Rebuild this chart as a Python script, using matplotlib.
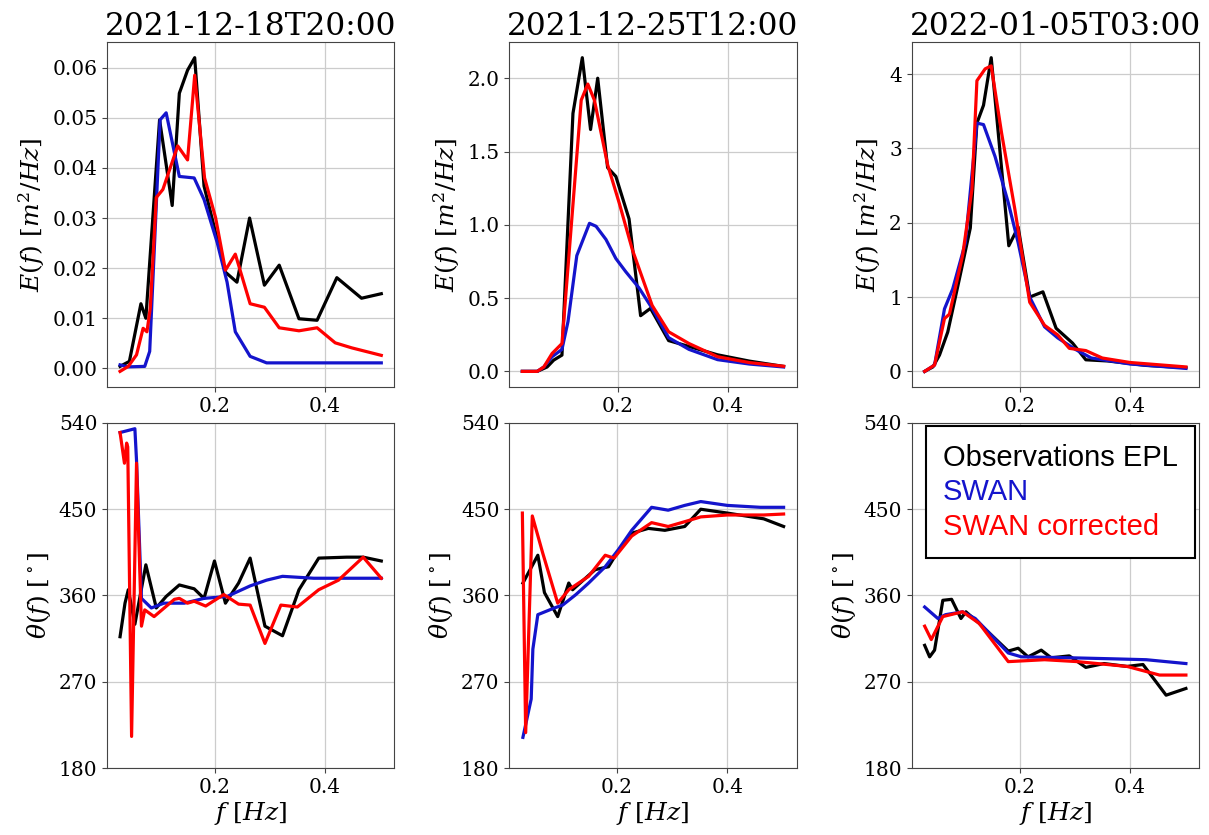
import numpy as np
import matplotlib
matplotlib.use('Agg')
import matplotlib.pyplot as plt

plt.rcParams['font.family'] = 'DejaVu Serif'
plt.rcParams['mathtext.fontset'] = 'dejavuserif'

titles = ['2021-12-18T20:00', '2021-12-25T12:00', '2022-01-05T03:00']

# --- 2021-12-18T20:00 ---
f_obs1 = [0.027, 0.044, 0.065, 0.074, 0.099, 0.122, 0.135, 0.150, 0.163, 0.180, 0.219, 0.240,
          0.263, 0.290, 0.317, 0.353, 0.386, 0.422, 0.467, 0.503]
E_obs1 = [0.0004, 0.0014, 0.0129, 0.0100, 0.0496, 0.0325, 0.0549, 0.0595, 0.0620, 0.0364, 0.0192,
          0.0172, 0.0300, 0.0166, 0.0206, 0.0099, 0.0096, 0.0181, 0.0140, 0.0149]
f_swan1 = [0.027, 0.041, 0.072, 0.081, 0.100, 0.111, 0.135, 0.162, 0.180, 0.204, 0.222, 0.237,
           0.264, 0.294, 0.350, 0.420, 0.503]
E_swan1 = [0.0007, 0.0003, 0.0004, 0.0034, 0.0496, 0.0510, 0.0383, 0.0380, 0.0337, 0.0251, 0.0172,
           0.0073, 0.0024, 0.0011, 0.0011, 0.0011, 0.0011]
f_cor1 = [0.027, 0.042, 0.057, 0.069, 0.076, 0.082, 0.093, 0.105, 0.132, 0.150, 0.163, 0.181,
          0.201, 0.219, 0.237, 0.264, 0.290, 0.317, 0.353, 0.386, 0.419, 0.449, 0.503]
E_cor1 = [-0.0006, 0.0004, 0.0027, 0.0080, 0.0073, 0.0120, 0.0341, 0.0357, 0.0444, 0.0416, 0.0585,
          0.0380, 0.0301, 0.0196, 0.0228, 0.0129, 0.0122, 0.0081, 0.0075, 0.0081, 0.0051, 0.0041, 0.0026]

# --- 2021-12-25T12:00 ---
f_obs2 = [0.027, 0.054, 0.072, 0.084, 0.099, 0.119, 0.136, 0.151, 0.164, 0.182, 0.197, 0.221,
          0.242, 0.260, 0.293, 0.330, 0.382, 0.440, 0.502]
E_obs2 = [0.0, 0.0, 0.03, 0.077, 0.111, 1.76, 2.14, 1.65, 2.00, 1.39, 1.33, 1.04,
          0.38, 0.43, 0.21, 0.17, 0.113, 0.07, 0.034]
f_swan2 = [0.027, 0.054, 0.066, 0.081, 0.099, 0.110, 0.126, 0.149, 0.161, 0.179, 0.197, 0.215,
           0.239, 0.263, 0.293, 0.330, 0.382, 0.440, 0.502]
E_swan2 = [0.0, 0.0, 0.03, 0.10, 0.15, 0.34, 0.79, 1.01, 0.99, 0.90, 0.77, 0.68,
           0.57, 0.43, 0.23, 0.15, 0.08, 0.05, 0.03]
f_cor2 = [0.027, 0.054, 0.066, 0.081, 0.099, 0.134, 0.146, 0.158, 0.182, 0.203, 0.227, 0.263,
          0.293, 0.330, 0.382, 0.440, 0.502]
E_cor2 = [0.0, 0.0, 0.03, 0.122, 0.19, 1.85, 1.96, 1.85, 1.41, 1.15, 0.83, 0.45,
          0.27, 0.19, 0.10, 0.06, 0.035]

# --- 2022-01-05T03:00 ---
f_obs3 = [0.027, 0.042, 0.054, 0.069, 0.090, 0.110, 0.122, 0.134, 0.148, 0.180, 0.197, 0.218,
          0.242, 0.266, 0.296, 0.320, 0.360, 0.430, 0.502]
E_obs3 = [0.0, 0.06, 0.22, 0.53, 1.24, 1.93, 3.34, 3.58, 4.22, 1.69, 1.94, 1.00,
          1.07, 0.58, 0.38, 0.156, 0.14, 0.08, 0.05]
f_swan3 = [0.027, 0.045, 0.063, 0.078, 0.101, 0.122, 0.134, 0.155, 0.179, 0.197, 0.218, 0.245,
           0.269, 0.300, 0.330, 0.400, 0.502]
E_swan3 = [0.0, 0.085, 0.84, 1.11, 1.73, 3.34, 3.32, 2.89, 2.27, 1.73, 1.00, 0.60,
           0.45, 0.30, 0.18, 0.10, 0.04]
f_cor3 = [0.027, 0.045, 0.063, 0.072, 0.096, 0.113, 0.122, 0.137, 0.148, 0.167, 0.191, 0.218,
          0.245, 0.269, 0.290, 0.320, 0.350, 0.400, 0.502]
E_cor3 = [0.0, 0.085, 0.71, 0.77, 1.56, 2.45, 3.91, 4.07, 4.11, 3.20, 2.18, 0.93,
          0.62, 0.49, 0.31, 0.28, 0.18, 0.12, 0.06]

# mean direction, first event
fd_obs1 = [0.027, 0.036, 0.042, 0.054, 0.074, 0.093, 0.111, 0.135, 0.162, 0.180, 0.199, 0.219,
           0.243, 0.264, 0.291, 0.323, 0.353, 0.389, 0.440, 0.470, 0.503]
th_obs1 = [317, 352, 366, 330, 392, 347, 359, 371, 367, 357, 396, 352,
           373, 399, 328, 318, 366, 399, 400, 400, 396]
fd_swan1 = [0.027, 0.054, 0.057, 0.066, 0.084, 0.107, 0.144, 0.180, 0.222, 0.264, 0.294, 0.323,
            0.380, 0.503]
th_swan1 = [530, 534, 501, 357, 347, 352, 352, 357, 359, 370, 376, 380, 378, 378]
fd_cor1 = [0.027, 0.035, 0.039, 0.041, 0.048, 0.057, 0.066, 0.072, 0.089, 0.126, 0.135, 0.150,
           0.162, 0.183, 0.216, 0.243, 0.264, 0.291, 0.320, 0.350, 0.389, 0.425, 0.470, 0.503]
th_cor1 = [530, 498, 519, 515, 213, 498, 328, 345, 338, 356, 357, 352,
           354, 349, 361, 351, 350, 310, 350, 348, 366, 376, 400, 378]

# mean direction, second event
fd_obs2 = [0.030, 0.057, 0.069, 0.093, 0.113, 0.120, 0.149, 0.161, 0.185, 0.203, 0.227, 0.257,
           0.287, 0.323, 0.352, 0.400, 0.466, 0.502]
th_obs2 = [373, 402, 363, 338, 373, 366, 381, 387, 390, 407, 425, 430,
           428, 432, 450, 446, 440, 432]
fd_swan2 = [0.030, 0.045, 0.048, 0.057, 0.087, 0.102, 0.126, 0.149, 0.179, 0.203, 0.227, 0.263,
            0.293, 0.323, 0.352, 0.400, 0.460, 0.502]
th_swan2 = [212, 252, 304, 340, 347, 350, 361, 373, 390, 408, 428, 452,
            449, 454, 458, 454, 452, 452]
fd_cor2 = [0.029, 0.029, 0.035, 0.047, 0.066, 0.093, 0.113, 0.149, 0.179, 0.195, 0.227, 0.263,
           0.293, 0.323, 0.352, 0.400, 0.466, 0.502]
th_cor2 = [446, 446, 217, 443, 404, 352, 366, 380, 402, 399, 422, 436,
           432, 437, 442, 444, 444, 445]

# mean direction, third event
fd_obs3 = [0.027, 0.036, 0.045, 0.060, 0.076, 0.093, 0.102, 0.126, 0.179, 0.197, 0.215, 0.239,
           0.257, 0.290, 0.320, 0.353, 0.395, 0.424, 0.466, 0.502]
th_obs3 = [308, 296, 303, 355, 356, 336, 343, 331, 302, 305, 296, 303,
           295, 297, 285, 289, 286, 288, 256, 263]
fd_swan3 = [0.027, 0.051, 0.065, 0.096, 0.119, 0.179, 0.203, 0.293, 0.365, 0.430, 0.502]
th_swan3 = [348, 336, 340, 343, 336, 300, 296, 295, 294, 293, 289]
fd_cor3 = [0.027, 0.039, 0.060, 0.096, 0.126, 0.179, 0.245, 0.305, 0.395, 0.454, 0.502]
th_cor3 = [328, 314, 338, 343, 331, 291, 293, 291, 286, 277, 277]

spectra = [
    [(f_obs1, E_obs1), (f_swan1, E_swan1), (f_cor1, E_cor1)],
    [(f_obs2, E_obs2), (f_swan2, E_swan2), (f_cor2, E_cor2)],
    [(f_obs3, E_obs3), (f_swan3, E_swan3), (f_cor3, E_cor3)],
]
directions = [
    [(fd_obs1, th_obs1), (fd_swan1, th_swan1), (fd_cor1, th_cor1)],
    [(fd_obs2, th_obs2), (fd_swan2, th_swan2), (fd_cor2, th_cor2)],
    [(fd_obs3, th_obs3), (fd_swan3, th_swan3), (fd_cor3, th_cor3)],
]
labels = ['Observations EPL', 'SWAN', 'SWAN corrected']
colors = ['black', '#1414cc', 'red']

fig, axes = plt.subplots(2, 3, figsize=(12.09, 8.35), dpi=100)
fig.subplots_adjust(left=0.0885, right=0.9917, top=0.9497, bottom=0.0802,
                    wspace=0.40, hspace=0.104)

for j in range(3):
    ax = axes[0, j]
    for (f, v), c, lab in zip(spectra[j], colors, labels):
        ax.plot(f, v, color=c, lw=2.3, label=lab)
    ax.set_title(titles[j], fontsize=22.5, pad=4)
    ax.set_ylabel(r'$E(f)\ [m^2/Hz]$', fontsize=18)

    ax = axes[1, j]
    for (f, v), c, lab in zip(directions[j], colors, labels):
        ax.plot(f, v, color=c, lw=2.3, label=lab)
    ax.set_ylim(180, 540)
    ax.set_yticks([180, 270, 360, 450, 540])
    ax.set_ylabel(r'$\theta(f)\ [^\circ]$', fontsize=18)
    ax.set_xlabel(r'$f\ [Hz]$', fontsize=18, labelpad=2)

axes[0, 0].set_yticks([0.0, 0.01, 0.02, 0.03, 0.04, 0.05, 0.06])
axes[0, 0].set_yticklabels(['0.00', '0.01', '0.02', '0.03', '0.04', '0.05', '0.06'])

for ax in axes.flat:
    ax.set_xticks([0.2, 0.4])
    ax.tick_params(labelsize=14.5, color='#444444')
    ax.grid(color='#cccccc', linewidth=0.9)
    for s in ax.spines.values():
        s.set_color('#444444')

leg = axes[1, 2].legend(loc='upper right', handlelength=0, handletextpad=0,
                        fancybox=False, framealpha=1, borderaxespad=0.12,
                        prop={'family': 'Liberation Sans', 'size': 21},
                        labelspacing=0.22, borderpad=0.6)
leg.get_frame().set_edgecolor('black')
leg.get_frame().set_linewidth(1.5)
for line in leg.get_lines():
    line.set_visible(False)
for txt, c in zip(leg.get_texts(), colors):
    txt.set_color(c)

fig.savefig('out.png', dpi=100)
